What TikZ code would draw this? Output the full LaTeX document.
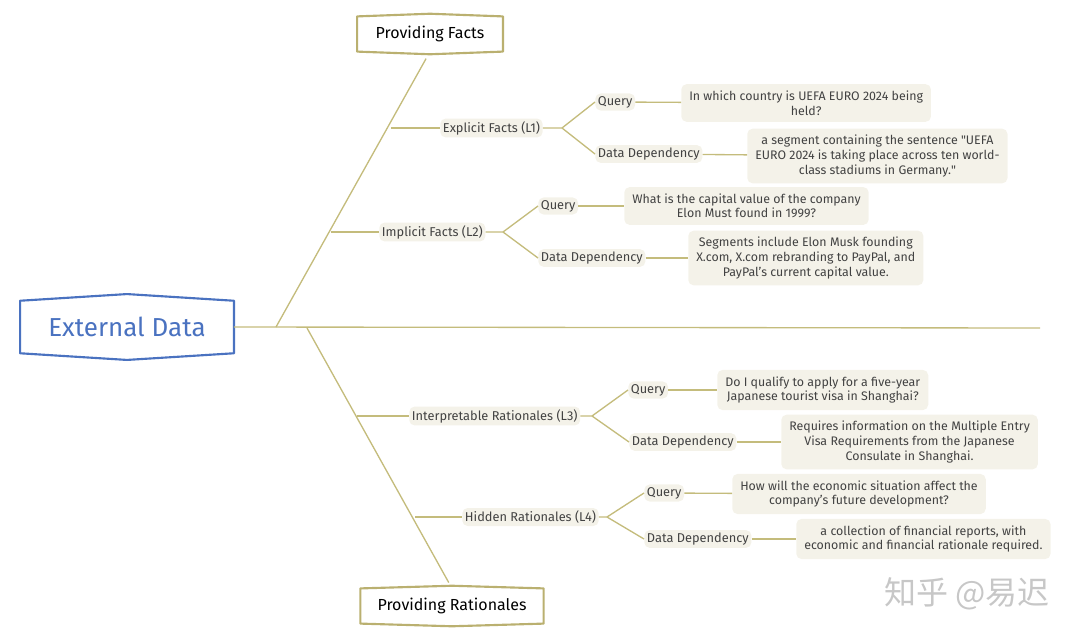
\documentclass[tikz,border=0pt]{standalone}
\usepackage{fontspec}
\setmainfont{Fira Sans}
\newfontfamily\cjk{Noto Sans CJK SC}
\usetikzlibrary{positioning, calc}
\usepackage{xcolor}
\definecolor{branchcol}{RGB}{196,188,124}
\definecolor{framecol}{RGB}{186,176,112}
\definecolor{extblue}{RGB}{74,114,192}
\definecolor{notefill}{RGB}{244,242,233}
\definecolor{textgray}{RGB}{66,66,66}

\newcommand{\peakframe}[3]{%
  \draw[#2, line width=1.6pt, line join=round] (#1.north west) -- ([yshift=#3]#1.north) -- (#1.north east) -- (#1.south east) -- ([yshift=-#3]#1.south) -- (#1.south west) -- cycle;}

\begin{document}
\begin{tikzpicture}[x=0.75pt, y=-0.75pt,
  rootbox/.style={minimum width=160pt, minimum height=39pt, text=extblue, font=\fontsize{19.5}{22}\selectfont},
  headbox/.style={minimum height=26pt, font=\fontsize{12}{14}\selectfont},
  levelnode/.style={fill=notefill, rounded corners=4pt, inner sep=2pt, text=textgray, anchor=west, font=\fontsize{9.6}{11}\selectfont},
  notenode/.style={levelnode, align=center, inner xsep=6pt, inner ysep=5pt, font=\fontsize{9.3}{10.9}\selectfont},
  branch/.style={draw=branchcol, line width=1pt},]

    \useasboundingbox (0,0) rectangle (1080,639);

    \node[rootbox] (ext) at (127,327) {External Data};
    \node[headbox, minimum width=109pt] (facts) at (430,34) {Providing Facts};
    \node[headbox, minimum width=137pt] (rats) at (452,606) {Providing Rationales};

    \peakframe{ext}{extblue}{5pt}
    \peakframe{facts}{framecol}{2pt}
    \peakframe{rats}{framecol}{2pt}

    \coordinate (mainend) at (1040,328);
    \coordinate (factroot) at (276,327);
    \coordinate (ratroot) at (307,328);

    \draw[branch] (ext.east) -- (mainend);
    \draw[branch, shorten >=6pt] (factroot) -- (facts.south);
    \draw[branch, shorten >=5pt] (ratroot) -- (rats.north);

    % levels
    \coordinate (b1) at (391,128);
    \coordinate (b2) at (331,232);
    \coordinate (b3) at (357,416);
    \coordinate (b4) at (415,517);

    \node[levelnode] (l1) at (440,128) {Explicit Facts (L1)};
    \node[levelnode] (l2) at (379,232) {Implicit Facts (L2)};
    \node[levelnode] (l3) at (409,416) {Interpretable Rationales (L3)};
    \node[levelnode] (l4) at (462,517) {Hidden Rationales (L4)};

    \draw[branch] (b1) -- (l1.west);
    \draw[branch] (b2) -- (l2.west);
    \draw[branch] (b3) -- (l3.west);
    \draw[branch] (b4) -- (l4.west);

    \coordinate (f1) at (562,128);
    \coordinate (f2) at (503,232);
    \coordinate (f3) at (592,416);
    \coordinate (f4) at (607,517);

    \node[levelnode] (q1) at (595,102) {Query};
    \node[levelnode] (d1) at (595,154) {Data Dependency};
    \node[levelnode] (q2) at (538,206) {Query};
    \node[levelnode] (d2) at (538,258) {Data Dependency};
    \node[levelnode] (q3) at (628,390) {Query};
    \node[levelnode] (d3) at (629,442) {Data Dependency};
    \node[levelnode] (q4) at (644,493) {Query};
    \node[levelnode] (d4) at (644,539) {Data Dependency};

    \draw[branch] (l1.east) -- (f1) -- (q1.west);
    \draw[branch] (f1) -- (d1.west);
    \draw[branch] (l2.east) -- (f2) -- (q2.west);
    \draw[branch] (f2) -- (d2.west);
    \draw[branch] (l3.east) -- (f3) -- (q3.west);
    \draw[branch] (f3) -- (d3.west);
    \draw[branch] (l4.east) -- (f4) -- (q4.west);
    \draw[branch] (f4) -- (d4.west);

    % notes
    \node[notenode] (a1) at (681,103) {In which country is UEFA EURO 2024 being\\held?};
    \node[notenode] (a2) at (747,156) {a segment containing the sentence \textquotedbl UEFA\\EURO 2024 is taking place across ten world-\\class stadiums in Germany.\textquotedbl};
    \node[notenode] (a3) at (624,206) {What is the capital value of the company\\Elon Must found in 1999?};
    \node[notenode] (a4) at (688,258) {Segments include Elon Musk founding\\X.com, X.com rebranding to PayPal, and\\PayPal's current capital value.};
    \node[notenode] (a5) at (717,390) {Do I qualify to apply for a five-year\\Japanese tourist visa in Shanghai?};
    \node[notenode] (a6) at (781,442) {Requires information on the Multiple Entry\\Visa Requirements from the Japanese\\Consulate in Shanghai.};
    \node[notenode] (a7) at (732,494) {How will the economic situation affect the\\company's future development?};
    \node[notenode] (a8) at (796,539) {a collection of financial reports, with\\economic and financial rationale required.};

    \draw[branch] (q1) -- (a1);
    \draw[branch] (d1) -- (a2);
    \draw[branch] (q2) -- (a3);
    \draw[branch] (d2) -- (a4);
    \draw[branch] (q3) -- (a5);
    \draw[branch] (d3) -- (a6);
    \draw[branch] (q4) -- (a7);
    \draw[branch] (d4) -- (a8);

    \node[text=black!22, font=\cjk\fontsize{24}{24}\selectfont] (mark) at (967,594) {知乎 @易迟};

\end{tikzpicture}
\end{document}
